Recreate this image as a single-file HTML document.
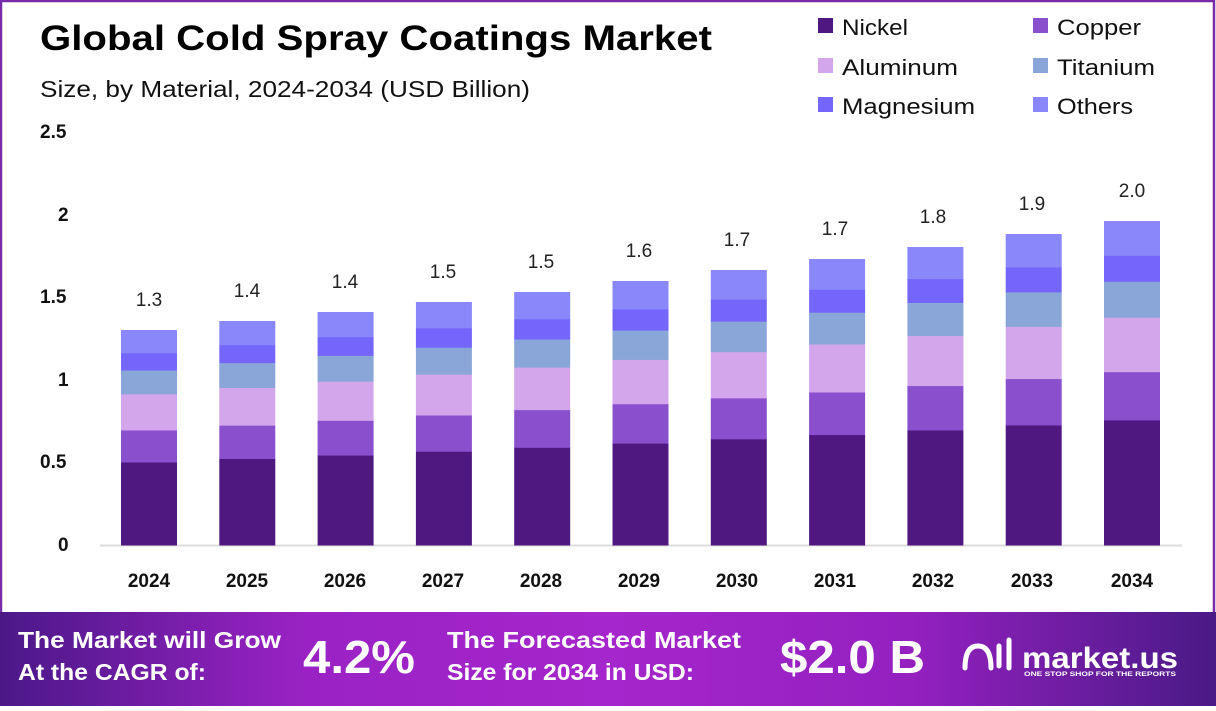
<!DOCTYPE html>
<html><head><meta charset="utf-8"><style>
html,body{margin:0;padding:0;background:#fff}
body{width:1216px;height:706px;overflow:hidden;font-family:"Liberation Sans",sans-serif}
</style></head><body>
<svg id="s" width="1216" height="706" viewBox="0 0 1216 706" xmlns="http://www.w3.org/2000/svg" font-family="Liberation Sans, sans-serif">
<defs>
<linearGradient id="bg" x1="0" x2="1" y1="0" y2="0">
<stop offset="0" stop-color="#4b1888"/><stop offset="0.25" stop-color="#9a22c4"/><stop offset="0.5" stop-color="#a526cc"/><stop offset="0.75" stop-color="#9420c0"/><stop offset="1" stop-color="#4a1a86"/>
</linearGradient>
</defs>
<rect x="1" y="1" width="1213" height="700" fill="#fff" stroke="#7a2aa8" stroke-width="2.5"/>
<text x="40" y="50" font-size="35" font-weight="bold" fill="#000" textLength="672" lengthAdjust="spacingAndGlyphs">Global Cold Spray Coatings Market</text>
<text x="40" y="97" font-size="23" fill="#111" textLength="490" lengthAdjust="spacingAndGlyphs">Size, by Material, 2024-2034 (USD Billion)</text>
<g font-size="22" fill="#111">
<rect x="818" y="18" width="15" height="15" fill="#4f1780"/><text x="842" y="35" textLength="66" lengthAdjust="spacingAndGlyphs">Nickel</text>
<rect x="1033" y="18" width="15" height="15" fill="#8a4fcc"/><text x="1057" y="35" textLength="84" lengthAdjust="spacingAndGlyphs">Copper</text>
<rect x="818" y="58" width="15" height="15" fill="#d3a6ec"/><text x="842" y="75" textLength="116" lengthAdjust="spacingAndGlyphs">Aluminum</text>
<rect x="1033" y="58" width="15" height="15" fill="#8aa5d8"/><text x="1057" y="75" textLength="98" lengthAdjust="spacingAndGlyphs">Titanium</text>
<rect x="818" y="97" width="15" height="15" fill="#7466fb"/><text x="842" y="114" textLength="133" lengthAdjust="spacingAndGlyphs">Magnesium</text>
<rect x="1033" y="97" width="15" height="15" fill="#8a87fa"/><text x="1057" y="114" textLength="76" lengthAdjust="spacingAndGlyphs">Others</text>
</g>
<g font-size="19" font-weight="bold" fill="#111">
<text x="40" y="138">2.5</text><text x="58" y="221">2</text><text x="40" y="303">1.5</text><text x="58" y="386">1</text><text x="40" y="468">0.5</text><text x="58" y="551">0</text>
</g>
<line x1="100" y1="545.5" x2="1182" y2="545.5" stroke="#ddd" stroke-width="2"/>
<g id="bars"></g>
<g font-size="19" fill="#222" text-anchor="middle">
<text x="149" y="306">1.3</text><text x="247" y="297">1.4</text><text x="345" y="288">1.4</text><text x="443" y="278">1.5</text><text x="541" y="268">1.5</text><text x="639" y="257">1.6</text><text x="737" y="246">1.7</text><text x="835" y="235">1.7</text><text x="933" y="223">1.8</text><text x="1032" y="210">1.9</text><text x="1132" y="197">2.0</text>
</g>
<g font-size="19" font-weight="bold" fill="#111" text-anchor="middle">
<text x="149" y="587">2024</text><text x="247" y="587">2025</text><text x="345" y="587">2026</text><text x="443" y="587">2027</text><text x="541" y="587">2028</text><text x="639" y="587">2029</text><text x="737" y="587">2030</text><text x="835" y="587">2031</text><text x="933" y="587">2032</text><text x="1032" y="587">2033</text><text x="1132" y="587">2034</text>
</g>
<rect x="0" y="612" width="1216" height="94" fill="url(#bg)"/>
<g fill="#fff" font-weight="bold">
<text x="18" y="648" font-size="23" textLength="263" lengthAdjust="spacingAndGlyphs">The Market will Grow</text>
<text x="18" y="680" font-size="23" textLength="188" lengthAdjust="spacingAndGlyphs">At the CAGR of:</text>
<text x="303" y="673" font-size="46" textLength="112" lengthAdjust="spacingAndGlyphs">4.2%</text>
<text x="447" y="648" font-size="23" textLength="294" lengthAdjust="spacingAndGlyphs">The Forecasted Market</text>
<text x="447" y="680" font-size="23" textLength="247" lengthAdjust="spacingAndGlyphs">Size for 2034 in USD:</text>
<text x="780" y="673" font-size="46" textLength="145" lengthAdjust="spacingAndGlyphs">$2.0 B</text>
<text x="1022" y="668" font-size="30" textLength="156" lengthAdjust="spacingAndGlyphs">market.us</text>
<text x="1024" y="676" font-size="6.5" textLength="152" lengthAdjust="spacingAndGlyphs">ONE STOP SHOP FOR THE REPORTS</text>
</g>
<path d="M965 668 q0 -22 13 -22 q13 0 13 22 M999 646 v20 M1009 640 v28" stroke="#fff" stroke-width="5" fill="none" stroke-linecap="round"/>
</svg>
<script>
var tops=[330,321,312,302,292,281,270,259,247,234,221];
var fr=[.386,.149,.168,.111,.08,.106];
var col=["#4f1780","#8a4fcc","#d3a6ec","#8aa5d8","#7466fb","#8a87fa"];
var g=document.getElementById("bars"),ns="http://www.w3.org/2000/svg";
for(var i=0;i<11;i++){var cx=149+i*98.3,h=545-tops[i],y=545;
for(var k=0;k<6;k++){var sh=h*fr[k];var r=document.createElementNS(ns,"rect");
r.setAttribute("x",cx-28);r.setAttribute("width",56);r.setAttribute("y",y-sh);r.setAttribute("height",sh+0.5);r.setAttribute("fill",col[k]);g.appendChild(r);y-=sh;}}
</script>
</body></html>
